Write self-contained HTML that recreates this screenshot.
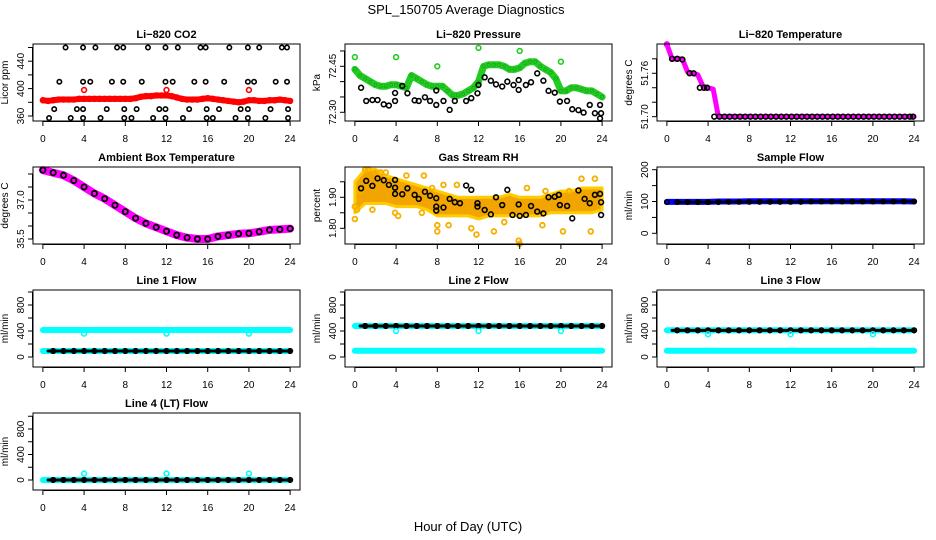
<!DOCTYPE html>
<html><head><meta charset="utf-8">
<style>
html,body{margin:0;padding:0;background:#fff;}
svg{display:block;font-family:"Liberation Sans",Arial,sans-serif;}
</style></head>
<body>
<svg id="chart" width="936" height="540" viewBox="0 0 936 540" xmlns="http://www.w3.org/2000/svg">
<rect width="936" height="540" fill="#fff"/>
<text x="466" y="14" font-size="13" text-anchor="middle">SPL_150705  Average Diagnostics</text>
<text x="468" y="531" font-size="13" text-anchor="middle">Hour of Day (UTC)</text>
</svg>
<script>
// ---------- data ----------
const xTicks = [0,4,8,12,16,20,24];
const co2Red = [383,382,383,384,384,384,384,385,385,385,385,385,385,385,385,385,385,385,386,388,389,389,390,390,390,389,387,385,384,384,384,385,386,385,384,383,382,381,380,381,383,383,382,382,383,383,384,383,382];
const co2RedOutHours = [4,12,20];
const co2RedOutVals = [398,398,398];
const co2BlkHours = [2.2,3.9,5.1,7.2,7.8,10.2,11.9,13.1,15.3,15.8,18.1,19.9,21.0,23.2,23.7, 1.6,3.9,4.6,6.7,7.8,9.6,11.9,12.6,14.7,15.8,17.6,19.9,20.5,22.6,23.7, 1.1,3.3,3.9,6.2,7.9,9.1,11.3,11.9,14.2,15.9,17.1,19.2,19.9,22.1,23.8, 0.6,2.7,3.9,5.6,7.9,8.6,10.7,11.9,13.6,15.9,16.5,18.7,19.9,21.6,23.8];
const co2BlkVals = [460,460,460,460,460,460,460,460,460,460,460,460,460,460,460, 410,410,410,410,410,410,410,410,410,410,410,410,410,410,410, 370,370,370,370,370,370,370,370,370,370,370,370,370,370,370, 357,357,357,357,357,357,357,357,357,357,357,357,357,357,357];

const presGreen = [72.44,72.42,72.41,72.40,72.39,72.385,72.385,72.39,72.39,72.385,72.38,72.42,72.41,72.40,72.39,72.385,72.385,72.385,72.37,72.355,72.355,72.36,72.37,72.38,72.40,72.45,72.455,72.455,72.455,72.45,72.44,72.44,72.445,72.46,72.465,72.465,72.45,72.44,72.43,72.41,72.37,72.37,72.38,72.38,72.375,72.37,72.37,72.36,72.35];
const presGreenOutHours = [0,4,8,12,16,20];
const presGreenOutVals = [72.48,72.48,72.45,72.51,72.50,72.465];
const presBlkHours = [0.6,1.1,1.7,2.2,2.8,3.3,3.9,3.9,4.6,5.1,5.8,6.2,6.8,7.3,7.9,7.9,8.6,9.2,9.7,10.8,11.3,11.9,12.0,12.6,13.2,13.7,14.3,14.8,15.4,15.9,15.9,16.6,17.1,17.7,18.3,18.8,19.4,19.9,20.6,21.1,21.7,22.2,22.8,23.3,23.8,23.9,23.8];
const presBlkVals = [72.38,72.337,72.34,72.34,72.326,72.322,72.337,72.363,72.386,72.362,72.339,72.337,72.349,72.337,72.324,72.371,72.337,72.308,72.337,72.337,72.346,72.362,72.389,72.414,72.403,72.391,72.384,72.40,72.389,72.373,72.405,72.389,72.398,72.427,72.403,72.37,72.364,72.335,72.337,72.31,72.307,72.299,72.324,72.297,72.324,72.297,72.28];

const tempMag = [51.80,51.78,51.78,51.78,51.762,51.76,51.758,51.742,51.74,51.738,51.70,51.70,51.70,51.70,51.70,51.70,51.70,51.70,51.70,51.70,51.70,51.70,51.70,51.70,51.70,51.70,51.70,51.70,51.70,51.70,51.70,51.70,51.70,51.70,51.70,51.70,51.70,51.70,51.70,51.70,51.70,51.70,51.70,51.70,51.70,51.70,51.70,51.70,51.70];
const tempBlkHours = [0.5,1.0,1.5,2.2,2.6,3.2,3.6,3.9,4.6,5.1,5.6,6.1,6.6,7.1,7.6,8.1,8.6,9.1,9.6,10.1,10.6,11.1,11.6,12.1,12.6,13.1,13.6,14.1,14.6,15.1,15.6,16.1,16.6,17.1,17.6,18.1,18.6,19.1,19.6,20.1,20.6,21.1,21.6,22.1,22.6,23.1,23.6,23.9];
const tempBlkVals = [51.78,51.78,51.779,51.76,51.76,51.74,51.74,51.74,51.70,51.70,51.70,51.70,51.70,51.70,51.70,51.70,51.70,51.70,51.70,51.70,51.70,51.70,51.70,51.70,51.70,51.70,51.70,51.70,51.70,51.70,51.70,51.70,51.70,51.70,51.70,51.70,51.70,51.70,51.70,51.70,51.70,51.70,51.70,51.70,51.70,51.70,51.70,51.70];

const ambHourly = [38.15,38.05,37.95,37.75,37.5,37.25,37.05,36.8,36.55,36.3,36.1,35.95,35.8,35.65,35.55,35.5,35.5,35.6,35.65,35.7,35.72,35.78,35.85,35.87,35.9];

const rhUpper = [1.95,1.99,1.99,1.97,1.96,1.95,1.94,1.93,1.92,1.91,1.90,1.90,1.90,1.90,1.90,1.91,1.90,1.90,1.90,1.91,1.92,1.92,1.93,1.93,1.93];
const rhLower = [1.85,1.88,1.88,1.88,1.87,1.87,1.87,1.86,1.84,1.84,1.84,1.84,1.83,1.84,1.84,1.84,1.84,1.84,1.84,1.85,1.85,1.85,1.85,1.85,1.86];
const rhOutHours = [0,0,0.2,1.7,2.5,3.9,4.2,5,6.5,6.7,7.5,8,8,8.6,9.1,9.9,11.3,11.8,13.5,14.5,15.9,16.0,16.7,18.2,18.5,20.2,20.8,22.0,22.9,23.3,1.0,1.3,2.0,3.0,0.5];
const rhOutVals = [1.87,1.83,1.86,1.86,1.98,1.85,1.84,1.97,1.85,1.97,1.93,1.81,1.79,1.94,1.81,1.94,1.80,1.78,1.79,1.82,1.76,1.75,1.93,1.81,1.92,1.79,1.92,1.96,1.79,1.96,1.99,1.99,1.98,1.98,1.92];
const rhBlkHours = [0.6,1.1,1.7,2.2,2.8,3.3,3.9,3.9,3.9,4.6,5.1,5.8,6.2,6.8,7.3,7.9,7.9,7.9,8.6,9.2,9.7,10.2,10.8,11.3,11.9,11.9,12.6,13.2,13.7,14.3,14.8,15.3,15.9,16.0,16.6,17.1,17.7,18.3,18.8,19.4,19.8,19.9,20.6,21.1,21.7,22.3,22.8,23.3,23.8,23.9,23.9];
const rhBlkVals = [1.929,1.953,1.937,1.961,1.955,1.94,1.956,1.931,1.911,1.91,1.929,1.908,1.895,1.918,1.905,1.897,1.87,1.857,1.867,1.895,1.884,1.881,1.938,1.924,1.881,1.87,1.859,1.845,1.90,1.875,1.924,1.843,1.877,1.84,1.843,1.872,1.854,1.848,1.90,1.902,1.908,1.875,1.872,1.832,1.922,1.895,1.881,1.908,1.911,1.884,1.843];

const sampleBlue = [99,99,99,99,99,100,100,100,101,101,101,101,101,101,101,101,101,101,101,101,101,101,101,101,100];
const sampleBlk = [98,98,98,98,98,98,99,99,99,99,99,99,99,99,100,100,100,100,100,100,100,100,100,100,100];

const flowDipHours = [4,12,20];
const line1Cyan = [415,415,415,415,415,415,415,415,415,415,415,415,415,415,415,415,415,415,415,415,415,415,415,415,415];
const line1CyanLow = [92,92,92,92,92,92,92,92,92,92,92,92,92,92,92,92,92,92,92,92,92,92,92,92,92];
const line1Blk = [92,92,92,92,92,92,92,92,92,92,92,92,92,92,92,92,92,92,92,92,92,92,92,92,92];
const line1Dips = [360,360,360];
const line2Cyan = [477,477,477,477,477,477,477,477,477,477,477,477,477,477,477,477,477,477,477,477,477,477,477,477,477];
const line2CyanLow = [97,97,97,97,97,97,97,97,97,97,97,97,97,97,97,97,97,97,97,97,97,97,97,97,97];
const line2Blk = [477,477,477,477,477,477,477,477,477,477,477,477,477,477,477,477,477,477,477,477,477,477,477,477,477];
const line2Dips = [400,400,400];
const line3Cyan = [412,412,412,412,412,412,412,412,412,412,412,412,412,412,412,412,412,412,412,412,412,412,412,412,412];
const line3CyanLow = [97,97,97,97,97,97,97,97,97,97,97,97,97,97,97,97,97,97,97,97,97,97,97,97,97];
const line3Blk = [410,410,410,410,410,410,410,410,410,410,410,410,410,410,410,410,410,410,410,410,410,410,410,410,410];
const line3Dips = [350,350,350];
const line4Cyan = [0,0,0,0,0,0,0,0,0,0,0,0,0,0,0,0,0,0,0,0,0,0,0,0,0];
const line4Blk = [0,0,0,0,0,0,0,0,0,0,0,0,0,0,0,0,0,0,0,0,0,0,0,0,0];
const line4Spikes = [100,100,100];

// ---------- helpers ----------
const NS = "http://www.w3.org/2000/svg";
const svg = document.getElementById('chart');
const H49 = co2Red.map((_, i) => i * 0.5);
const H25 = ambHourly.map((_, i) => i);
const colLeft = [33, 345, 657], rowTop = [44, 167, 290, 413], PW = 267, PH = 77;

function mk(tag, attrs, parent) {
  const e = document.createElementNS(NS, tag);
  for (const k in attrs) e.setAttribute(k, attrs[k]);
  parent.appendChild(e);
  return e;
}

function panel(col, row, name, title, ylab, ymin, ymax, yticks, ylabels) {
  const L = colLeft[col], T = rowTop[row];
  const g = mk('g', {}, svg);
  
  
  const sx = h => L + (h + 0.96) / 25.92 * PW;
  const sy = v => T + (ymax - v) / (ymax - ymin) * PH;
  const plot = mk('g', {}, g);
  
  
  const t = mk('text', {x: L + PW / 2, y: T - 6, 'font-size': 11, 'font-weight': 'bold', 'text-anchor': 'middle'}, g);
  t.textContent = title;
  
  
  const yl = mk('text', {transform: `translate(${L - 25},${T + PH / 2}) rotate(-90)`, 'font-size': 10, 'text-anchor': 'middle'}, g);
  yl.textContent = ylab;
  
  
  const ax = mk('g', {stroke: '#000', 'stroke-width': 1, fill: 'none'}, g);
  
  
  xTicks.forEach(h => {
    mk('line', {x1: sx(h), x2: sx(h), y1: T + PH, y2: T + PH + 5}, ax);
    const lt = mk('text', {x: sx(h), y: T + PH + 21, 'font-size': 10, 'text-anchor': 'middle', stroke: 'none', fill: '#000'}, g);
    lt.textContent = h;
    
    
  });
  mk('line', {x1: sx(0), x2: sx(24), y1: T + PH + 0.5, y2: T + PH + 0.5}, ax);
  yticks.forEach(v => mk('line', {x1: L - 5, x2: L, y1: sy(v), y2: sy(v)}, ax));
  mk('line', {x1: L - 0.5, x2: L - 0.5, y1: sy(yticks[0]), y2: sy(yticks[yticks.length - 1])}, ax);
  ylabels.forEach(lab => {
    const lt = mk('text', {transform: `translate(${L - 9},${sy(parseFloat(lab))}) rotate(-90)`, 'font-size': 10, 'text-anchor': 'middle'}, g);
    lt.textContent = lab;
    
    
  });
  const box = mk('rect', {x: L, y: T, width: PW, height: PH, fill: 'none', stroke: '#000', 'stroke-width': 1}, g);
  
  
  return {g: plot, sx, sy};
}

function band(p, xs, ys, color, w, nm) {
  const pl = mk('polyline', {points: xs.map((h, i) => p.sx(h) + ',' + p.sy(ys[i])).join(' '), fill: 'none', stroke: color, 'stroke-width': w, 'stroke-linejoin': 'round', 'stroke-linecap': 'round'}, p.g);
  
  
}
function pts(p, xs, ys, color, nm, r, sw) {
  const grp = mk('g', {fill: 'none', stroke: color, 'stroke-width': sw || 1.6}, p.g);
  
  
  xs.forEach((h, i) => {
    const c = mk('circle', {cx: p.sx(h), cy: p.sy(ys[i]), r: r || 2.4}, grp);
    
    
  });
}

// ---------- panels ----------
let p;
p = panel(0, 0, 'co2', 'Li\u2212820 CO2', 'Licor ppm', 352.7, 465.1, [360,380,400,420,440,460], ['360','400','440']);
band(p, H49, co2Red, '#ff0000', 6, 'co2-red-series');
pts(p, H49, co2Red, '#ff0000', 'co2-red-points', 2.4);
pts(p, co2RedOutHours, co2RedOutVals, '#ff0000', 'co2-red-outliers');
pts(p, co2BlkHours, co2BlkVals, '#000', 'co2-black-points', 2.2);

p = panel(1, 0, 'pressure', 'Li\u2212820 Pressure', 'kPa', 72.2716, 72.5227, [72.30,72.35,72.40,72.45,72.50], ['72.30','72.45']);
band(p, H49, presGreen, '#22cc22', 7, 'pressure-green-series');
pts(p, H49, presGreen, '#1a991a', 'pressure-green-points', 1.6, 0.6);
pts(p, presGreenOutHours, presGreenOutVals, '#22cc22', 'pressure-green-outliers');
pts(p, presBlkHours, presBlkVals, '#000', 'pressure-black-points');

p = panel(2, 0, 'temperature', 'Li\u2212820 Temperature', 'degrees C', 51.694, 51.8005, [51.70,51.72,51.74,51.76,51.78], ['51.70','51.76']);
band(p, H49, tempMag, '#ff00ff', 5, 'temperature-magenta-series');
pts(p, [0], [51.80], '#ff00ff', 'temperature-magenta-outlier');
pts(p, tempBlkHours, tempBlkVals, '#000', 'temperature-black-points');

p = panel(0, 1, 'ambient', 'Ambient Box Temperature', 'degrees C', 35.308, 38.269, [35.5,36.0,36.5,37.0,37.5,38.0], ['35.5','37.0']);
band(p, H25, ambHourly, '#ff00ff', 8, 'ambient-magenta-series');
pts(p, H25, ambHourly, '#000', 'ambient-black-points', 2.6, 1.8);

p = panel(1, 1, 'rh', 'Gas Stream RH', 'percent', 1.7494, 1.9977, [1.80,1.85,1.90,1.95], ['1.80','1.90']);
{
  const poly = H25.map((h, i) => p.sx(h) + ',' + p.sy(rhUpper[i])).concat(H25.slice().reverse().map(h => p.sx(h) + ',' + p.sy(rhLower[h]))).join(' ');
  const pg = mk('polygon', {points: poly, fill: '#f2a400', stroke: '#ffcc00', 'stroke-width': 3, 'stroke-linejoin': 'round'}, p.g);
  
  
}
pts(p, rhOutHours, rhOutVals, '#f5b000', 'rh-orange-points', 2.4, 1.8);
pts(p, rhBlkHours, rhBlkVals, '#000', 'rh-black-points');

p = panel(2, 1, 'sample-flow', 'Sample Flow', 'ml/min', -33.6, 208.5, [0,50,100,150,200], ['0','100','200']);
band(p, H25, sampleBlue, '#0000ff', 6, 'sample-blue-series');
band(p, H25.slice(1), sampleBlk.slice(1), '#000', 2.5, 'sample-black-line');
pts(p, H25, sampleBlk, '#000', 'sample-black-points', 2.2);

const fT = [0,200,400,600,800,1000], fL = ['0','400','800'];
function flowPanel(col, row, nm, title, cyanHi, cyanLo, blk, dips, ymin, ymax) {
  const q = panel(col, row, nm, title, 'ml/min', ymin, ymax, fT, fL);
  if (cyanHi) band(q, H25, cyanHi, '#00ffff', 6, nm + '-cyan-upper');
  if (cyanLo) band(q, H25, cyanLo, '#00ffff', 6, nm + '-cyan-lower');
  band(q, H25.map(h => Math.max(h, 0.5)), blk, '#000', 3, nm + '-black-line');
  pts(q, H25.slice(1), blk.slice(1), '#000', nm + '-black-points', 2.3);
  pts(q, flowDipHours, dips, '#00ffff', nm + '-cyan-dips');
  return q;
}
flowPanel(0, 2, 'line1-flow', 'Line 1 Flow', line1Cyan, line1CyanLow, line1Blk, line1Dips, -153.8, 1030.8);
flowPanel(1, 2, 'line2-flow', 'Line 2 Flow', line2Cyan, line2CyanLow, line2Blk, line2Dips, -153.8, 1030.8);
flowPanel(2, 2, 'line3-flow', 'Line 3 Flow', line3Cyan, line3CyanLow, line3Blk, line3Dips, -153.8, 1030.8);
flowPanel(0, 3, 'line4-flow', 'Line 4 (LT) Flow', line4Cyan, null, line4Blk, line4Spikes, -157, 1051);
</script>
</body></html>
